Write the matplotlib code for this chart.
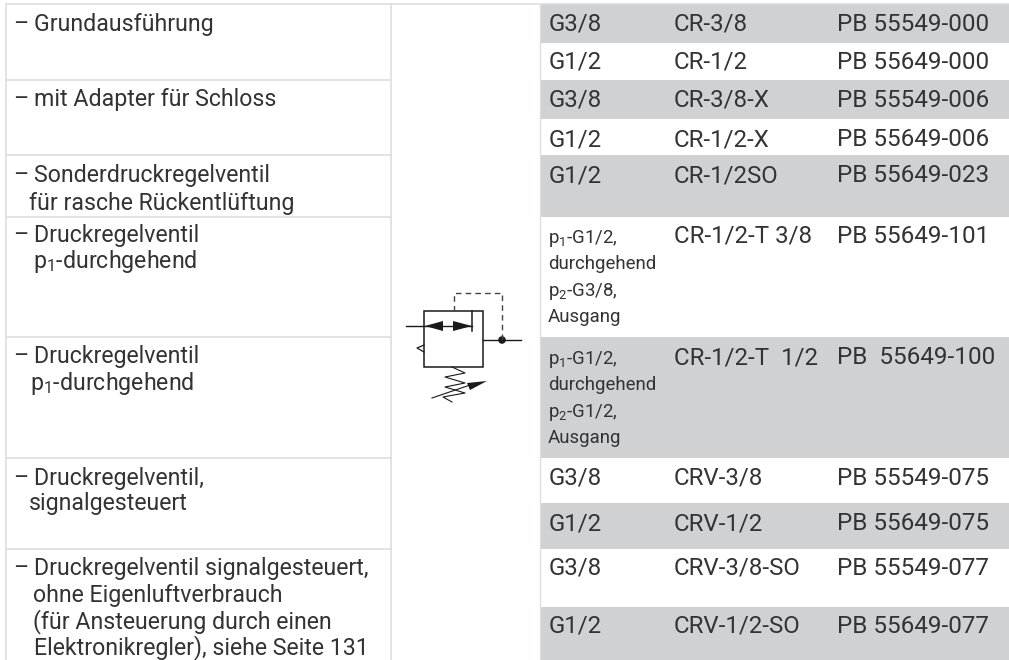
import matplotlib
matplotlib.use("Agg")
import matplotlib.pyplot as plt
from matplotlib.patches import Rectangle, Polygon, Circle

plt.rcParams['font.family'] = ['Roboto', 'DejaVu Sans']
plt.rcParams['mathtext.default'] = 'regular'

TEXT = '#333333'
GREY = '#d0d1d3'
LINE = '#dedede'

# Zeilen rechts: Grenzen, Ports, Typ, Bestellnummer
row_edges = [4, 43, 80, 119, 155, 217, 337, 458, 503, 549, 607, 660]
row_base = [31, 69, 107, 146, 182, 243, 364, 485, 530, 575, 633]
row_grey = [True, False, True, False, True, False, True, False, True, False, True]
ports = ['G3/8', 'G1/2', 'G3/8', 'G1/2', 'G1/2', '', '', 'G3/8', 'G1/2', 'G3/8', 'G1/2']
types = ['CR-3/8', 'CR-1/2', 'CR-3/8-X', 'CR-1/2-X', 'CR-1/2SO', 'CR-1/2-T 3/8', 'CR-1/2-T  1/2',
         'CRV-3/8', 'CRV-1/2', 'CRV-3/8-SO', 'CRV-1/2-SO']
numbers = ['PB 55549-000', 'PB 55649-000', 'PB 55549-006', 'PB 55649-006', 'PB 55649-023',
           'PB 55649-101', 'PB  55649-100', 'PB 55549-075', 'PB 55649-075', 'PB 55549-077',
           'PB 55649-077']

# schmale Spalte, mehrzeilige Anschluesse
narrow_lines = [(243, 'p$_{1}$-G1/2,'), (269, 'durchgehend'), (296, 'p$_{2}$-G3/8,'), (322, 'Ausgang'),
                (364, 'p$_{1}$-G1/2,'), (390, 'durchgehend'), (417, 'p$_{2}$-G1/2,'), (443, 'Ausgang')]

# linke Spalte
left_edges = [4, 80, 155, 217, 337, 458, 549]
left_lines = [(14, 31, '–\u2009Grundausführung'),
              (14, 106, '–\u2009mit Adapter für Schloss'),
              (14, 182, '–\u2009Sonderdruckregelventil'),
              (29, 210, 'für rasche Rückentlüftung'),
              (14, 242, '–\u2009Druckregelventil'),
              (33, 268, 'p$_{1}$-durchgehend'),
              (14, 363, '–\u2009Druckregelventil'),
              (30, 390, 'p$_{1}$-durchgehend'),
              (14, 485, '–\u2009Druckregelventil,'),
              (29, 510, 'signalgesteuert'),
              (14, 575, '–\u2009Druckregelventil signalgesteuert,'),
              (33, 602, 'ohne Eigenluftverbrauch'),
              (33, 628, '(für Ansteuerung durch einen'),
              (34, 654, 'Elektronikregler), siehe Seite 131')]

# Ventilsymbol
valve_box = (424, 311, 59, 56)
spring_x = [452, 465, 445, 465, 445, 465, 443, 452]
spring_y = [367, 373, 377, 383, 387, 393, 397, 402]
pilot_x = [454, 454, 502, 502]
pilot_y = [311, 293, 293, 340]

fig = plt.figure(figsize=(10.09, 6.6), dpi=100)
ax = fig.add_axes([0, 0, 1, 1])
ax.set_xlim(0, 1009)
ax.set_ylim(660, 0)
ax.axis('off')

# Zeilen rechts
for i in range(len(row_grey)):
    if row_grey[i]:
        ax.add_patch(Rectangle((540, row_edges[i]), 469, row_edges[i + 1] - row_edges[i], color=GREY, lw=0))
    ax.text(549, row_base[i], ports[i], color=TEXT, fontsize=17.3, va='baseline')
    ax.text(674, row_base[i], types[i], color=TEXT, fontsize=17.3, va='baseline')
    ax.text(837, row_base[i], numbers[i], color=TEXT, fontsize=17.5, va='baseline')

for y, s in narrow_lines:
    ax.text(548, y, s, color=TEXT, fontsize=13.4, va='baseline')

# Rahmenlinien
for y in left_edges:
    ax.plot([6, 391], [y, y], color=LINE, lw=1.2)
ax.plot([391, 1009], [4, 4], color=LINE, lw=1.2)
ax.plot([6, 6], [4, 660], color=LINE, lw=1.2)
ax.plot([391, 391], [4, 660], color=LINE, lw=1.2)
ax.plot([540, 540], [4, 660], color=LINE, lw=1)

for x, y, s in left_lines:
    ax.text(x, y, s, color=TEXT, fontsize=16.7, va='baseline')

# Symbol
ink = '#1a1a1a'
ax.add_patch(Rectangle(valve_box[:2], valve_box[2], valve_box[3], fill=False, ec=ink, lw=1.1))
ax.plot([406, 472], [326, 326], color=ink, lw=1)
ax.plot([472, 472], [311, 331], color=ink, lw=1.1)
ax.add_patch(Polygon([[425, 326], [443, 321], [443, 331]], color=ink, lw=0))
ax.add_patch(Polygon([[472, 326], [453, 321], [453, 331]], color=ink, lw=0))
ax.plot([483, 521], [340, 340], color=ink, lw=1)
ax.add_patch(Circle((502, 340), 3.8, color=ink, lw=0))
ax.plot(pilot_x, pilot_y, color='#444444', lw=1, dashes=(4, 3))
ax.plot([424, 417, 424], [345, 348, 352], color=ink, lw=0.9)
ax.plot(spring_x, spring_y, color=ink, lw=0.8)
ax.plot([432, 470], [398, 385], color=ink, lw=0.8)
ax.add_patch(Polygon([[487, 381], [467, 383], [470, 390]], color=ink, lw=0))

fig.savefig('out.png', dpi=100)
